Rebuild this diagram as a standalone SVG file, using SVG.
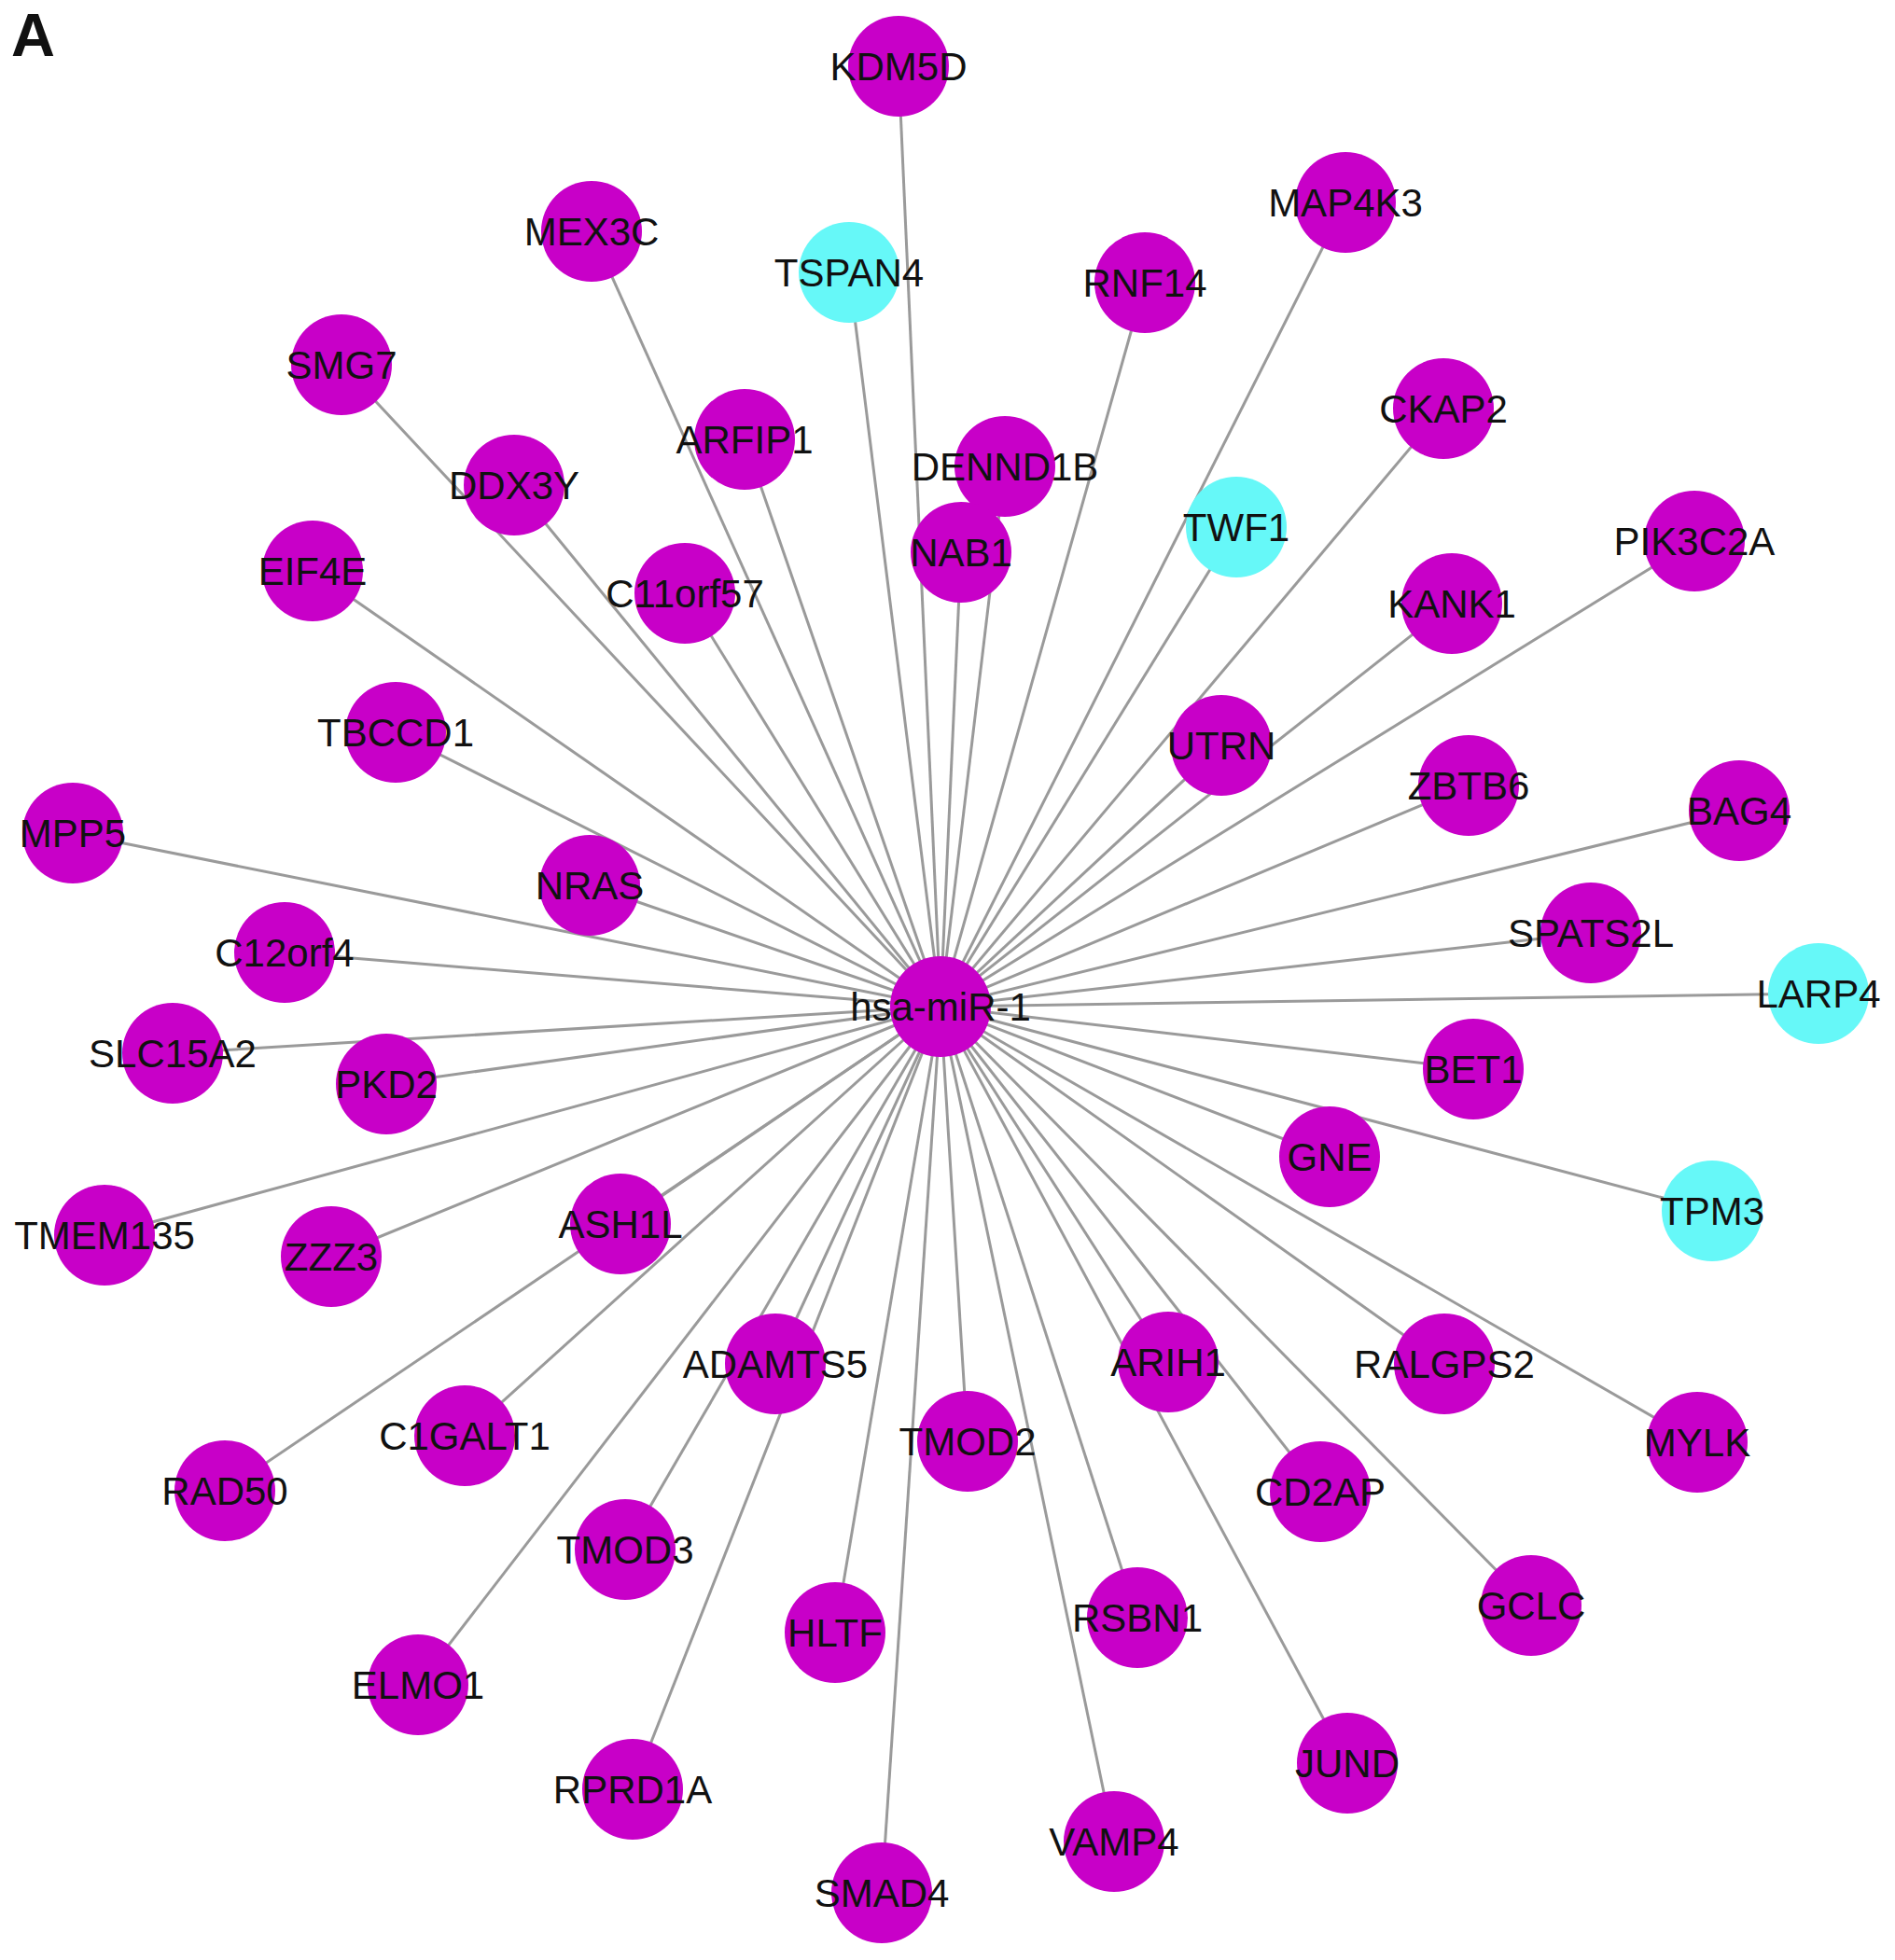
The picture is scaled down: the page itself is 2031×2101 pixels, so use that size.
<svg xmlns="http://www.w3.org/2000/svg" width="2031" height="2101" viewBox="0 0 2031 2101">
<style>
.e{stroke:#9a9a9a;stroke-width:3;fill:none}
.m{fill:#c800c8}
.c{fill:#66f8f8}
.t{font-family:"Liberation Sans",Arial,sans-serif;font-size:42px;fill:#111;text-anchor:middle}
</style>
<rect width="2031" height="2101" fill="#fff"/>
<text x="12" y="60" font-family="Liberation Sans,Arial,sans-serif" font-size="65" font-weight="bold" fill="#111">A</text>
<g id="edges">
<line class="e" x1="1008" y1="1079" x2="963" y2="71"/>
<line class="e" x1="1008" y1="1079" x2="634" y2="248"/>
<line class="e" x1="1008" y1="1079" x2="910" y2="292"/>
<line class="e" x1="1008" y1="1079" x2="1442" y2="217"/>
<line class="e" x1="1008" y1="1079" x2="1227" y2="303"/>
<line class="e" x1="1008" y1="1079" x2="366" y2="391"/>
<line class="e" x1="1008" y1="1079" x2="798" y2="471"/>
<line class="e" x1="1008" y1="1079" x2="551" y2="520"/>
<line class="e" x1="1008" y1="1079" x2="1077" y2="500"/>
<line class="e" x1="1008" y1="1079" x2="1547" y2="438"/>
<line class="e" x1="1008" y1="1079" x2="1325" y2="565"/>
<line class="e" x1="1008" y1="1079" x2="1030" y2="592"/>
<line class="e" x1="1008" y1="1079" x2="335" y2="612"/>
<line class="e" x1="1008" y1="1079" x2="734" y2="636"/>
<line class="e" x1="1008" y1="1079" x2="1816" y2="580"/>
<line class="e" x1="1008" y1="1079" x2="1556" y2="647"/>
<line class="e" x1="1008" y1="1079" x2="424" y2="785"/>
<line class="e" x1="1008" y1="1079" x2="1309" y2="799"/>
<line class="e" x1="1008" y1="1079" x2="1574" y2="842"/>
<line class="e" x1="1008" y1="1079" x2="1864" y2="869"/>
<line class="e" x1="1008" y1="1079" x2="78" y2="893"/>
<line class="e" x1="1008" y1="1079" x2="632" y2="949"/>
<line class="e" x1="1008" y1="1079" x2="1705" y2="1000"/>
<line class="e" x1="1008" y1="1079" x2="305" y2="1021"/>
<line class="e" x1="1008" y1="1079" x2="1949" y2="1065"/>
<line class="e" x1="1008" y1="1079" x2="185" y2="1129"/>
<line class="e" x1="1008" y1="1079" x2="414" y2="1162"/>
<line class="e" x1="1008" y1="1079" x2="1579" y2="1146"/>
<line class="e" x1="1008" y1="1079" x2="1425" y2="1240"/>
<line class="e" x1="1008" y1="1079" x2="1835" y2="1298"/>
<line class="e" x1="1008" y1="1079" x2="112" y2="1324"/>
<line class="e" x1="1008" y1="1079" x2="355" y2="1347"/>
<line class="e" x1="1008" y1="1079" x2="665" y2="1312"/>
<line class="e" x1="1008" y1="1079" x2="831" y2="1462"/>
<line class="e" x1="1008" y1="1079" x2="1252" y2="1460"/>
<line class="e" x1="1008" y1="1079" x2="1548" y2="1462"/>
<line class="e" x1="1008" y1="1079" x2="1819" y2="1546"/>
<line class="e" x1="1008" y1="1079" x2="1037" y2="1545"/>
<line class="e" x1="1008" y1="1079" x2="498" y2="1539"/>
<line class="e" x1="1008" y1="1079" x2="241" y2="1598"/>
<line class="e" x1="1008" y1="1079" x2="1415" y2="1599"/>
<line class="e" x1="1008" y1="1079" x2="670" y2="1661"/>
<line class="e" x1="1008" y1="1079" x2="1641" y2="1721"/>
<line class="e" x1="1008" y1="1079" x2="895" y2="1750"/>
<line class="e" x1="1008" y1="1079" x2="1219" y2="1734"/>
<line class="e" x1="1008" y1="1079" x2="448" y2="1806"/>
<line class="e" x1="1008" y1="1079" x2="1444" y2="1890"/>
<line class="e" x1="1008" y1="1079" x2="678" y2="1918"/>
<line class="e" x1="1008" y1="1079" x2="1194" y2="1974"/>
<line class="e" x1="1008" y1="1079" x2="945" y2="2029"/>
</g>
<g id="hsa-miR-1"><circle class="m" cx="1008" cy="1079" r="54"/><text class="t" x="1008" y="1094">hsa-miR-1</text></g>
<g id="KDM5D"><circle class="m" cx="963" cy="71" r="54"/><text class="t" x="963" y="86">KDM5D</text></g>
<g id="MEX3C"><circle class="m" cx="634" cy="248" r="54"/><text class="t" x="634" y="263">MEX3C</text></g>
<g id="TSPAN4"><circle class="c" cx="910" cy="292" r="54"/><text class="t" x="910" y="307">TSPAN4</text></g>
<g id="MAP4K3"><circle class="m" cx="1442" cy="217" r="54"/><text class="t" x="1442" y="232">MAP4K3</text></g>
<g id="RNF14"><circle class="m" cx="1227" cy="303" r="54"/><text class="t" x="1227" y="318">RNF14</text></g>
<g id="SMG7"><circle class="m" cx="366" cy="391" r="54"/><text class="t" x="366" y="406">SMG7</text></g>
<g id="ARFIP1"><circle class="m" cx="798" cy="471" r="54"/><text class="t" x="798" y="486">ARFIP1</text></g>
<g id="DDX3Y"><circle class="m" cx="551" cy="520" r="54"/><text class="t" x="551" y="535">DDX3Y</text></g>
<g id="DENND1B"><circle class="m" cx="1077" cy="500" r="54"/><text class="t" x="1077" y="515">DENND1B</text></g>
<g id="CKAP2"><circle class="m" cx="1547" cy="438" r="54"/><text class="t" x="1547" y="453">CKAP2</text></g>
<g id="TWF1"><circle class="c" cx="1325" cy="565" r="54"/><text class="t" x="1325" y="580">TWF1</text></g>
<g id="NAB1"><circle class="m" cx="1030" cy="592" r="54"/><text class="t" x="1030" y="607">NAB1</text></g>
<g id="EIF4E"><circle class="m" cx="335" cy="612" r="54"/><text class="t" x="335" y="627">EIF4E</text></g>
<g id="C11orf57"><circle class="m" cx="734" cy="636" r="54"/><text class="t" x="734" y="651">C11orf57</text></g>
<g id="PIK3C2A"><circle class="m" cx="1816" cy="580" r="54"/><text class="t" x="1816" y="595">PIK3C2A</text></g>
<g id="KANK1"><circle class="m" cx="1556" cy="647" r="54"/><text class="t" x="1556" y="662">KANK1</text></g>
<g id="TBCCD1"><circle class="m" cx="424" cy="785" r="54"/><text class="t" x="424" y="800">TBCCD1</text></g>
<g id="UTRN"><circle class="m" cx="1309" cy="799" r="54"/><text class="t" x="1309" y="814">UTRN</text></g>
<g id="ZBTB6"><circle class="m" cx="1574" cy="842" r="54"/><text class="t" x="1574" y="857">ZBTB6</text></g>
<g id="BAG4"><circle class="m" cx="1864" cy="869" r="54"/><text class="t" x="1864" y="884">BAG4</text></g>
<g id="MPP5"><circle class="m" cx="78" cy="893" r="54"/><text class="t" x="78" y="908">MPP5</text></g>
<g id="NRAS"><circle class="m" cx="632" cy="949" r="54"/><text class="t" x="632" y="964">NRAS</text></g>
<g id="SPATS2L"><circle class="m" cx="1705" cy="1000" r="54"/><text class="t" x="1705" y="1015">SPATS2L</text></g>
<g id="C12orf4"><circle class="m" cx="305" cy="1021" r="54"/><text class="t" x="305" y="1036">C12orf4</text></g>
<g id="LARP4"><circle class="c" cx="1949" cy="1065" r="54"/><text class="t" x="1949" y="1080">LARP4</text></g>
<g id="SLC15A2"><circle class="m" cx="185" cy="1129" r="54"/><text class="t" x="185" y="1144">SLC15A2</text></g>
<g id="PKD2"><circle class="m" cx="414" cy="1162" r="54"/><text class="t" x="414" y="1177">PKD2</text></g>
<g id="BET1"><circle class="m" cx="1579" cy="1146" r="54"/><text class="t" x="1579" y="1161">BET1</text></g>
<g id="GNE"><circle class="m" cx="1425" cy="1240" r="54"/><text class="t" x="1425" y="1255">GNE</text></g>
<g id="TPM3"><circle class="c" cx="1835" cy="1298" r="54"/><text class="t" x="1835" y="1313">TPM3</text></g>
<g id="TMEM135"><circle class="m" cx="112" cy="1324" r="54"/><text class="t" x="112" y="1339">TMEM135</text></g>
<g id="ZZZ3"><circle class="m" cx="355" cy="1347" r="54"/><text class="t" x="355" y="1362">ZZZ3</text></g>
<g id="ASH1L"><circle class="m" cx="665" cy="1312" r="54"/><text class="t" x="665" y="1327">ASH1L</text></g>
<g id="ADAMTS5"><circle class="m" cx="831" cy="1462" r="54"/><text class="t" x="831" y="1477">ADAMTS5</text></g>
<g id="ARIH1"><circle class="m" cx="1252" cy="1460" r="54"/><text class="t" x="1252" y="1475">ARIH1</text></g>
<g id="RALGPS2"><circle class="m" cx="1548" cy="1462" r="54"/><text class="t" x="1548" y="1477">RALGPS2</text></g>
<g id="MYLK"><circle class="m" cx="1819" cy="1546" r="54"/><text class="t" x="1819" y="1561">MYLK</text></g>
<g id="TMOD2"><circle class="m" cx="1037" cy="1545" r="54"/><text class="t" x="1037" y="1560">TMOD2</text></g>
<g id="C1GALT1"><circle class="m" cx="498" cy="1539" r="54"/><text class="t" x="498" y="1554">C1GALT1</text></g>
<g id="RAD50"><circle class="m" cx="241" cy="1598" r="54"/><text class="t" x="241" y="1613">RAD50</text></g>
<g id="CD2AP"><circle class="m" cx="1415" cy="1599" r="54"/><text class="t" x="1415" y="1614">CD2AP</text></g>
<g id="TMOD3"><circle class="m" cx="670" cy="1661" r="54"/><text class="t" x="670" y="1676">TMOD3</text></g>
<g id="GCLC"><circle class="m" cx="1641" cy="1721" r="54"/><text class="t" x="1641" y="1736">GCLC</text></g>
<g id="HLTF"><circle class="m" cx="895" cy="1750" r="54"/><text class="t" x="895" y="1765">HLTF</text></g>
<g id="RSBN1"><circle class="m" cx="1219" cy="1734" r="54"/><text class="t" x="1219" y="1749">RSBN1</text></g>
<g id="ELMO1"><circle class="m" cx="448" cy="1806" r="54"/><text class="t" x="448" y="1821">ELMO1</text></g>
<g id="JUND"><circle class="m" cx="1444" cy="1890" r="54"/><text class="t" x="1444" y="1905">JUND</text></g>
<g id="RPRD1A"><circle class="m" cx="678" cy="1918" r="54"/><text class="t" x="678" y="1933">RPRD1A</text></g>
<g id="VAMP4"><circle class="m" cx="1194" cy="1974" r="54"/><text class="t" x="1194" y="1989">VAMP4</text></g>
<g id="SMAD4"><circle class="m" cx="945" cy="2029" r="54"/><text class="t" x="945" y="2044">SMAD4</text></g>
</svg>
